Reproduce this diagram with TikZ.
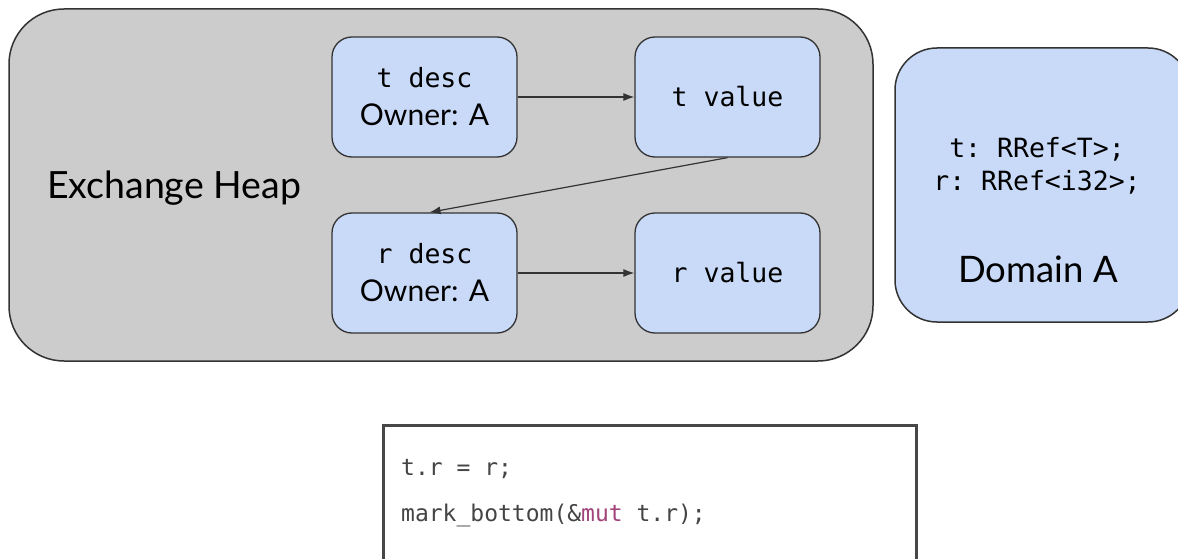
\documentclass[tikz,border=0pt]{standalone}
\usepackage{fontspec}
\setmainfont{Lato}
\setsansfont{Lato}
\setmonofont{DejaVu Sans Mono}
\usetikzlibrary{arrows.meta}
\definecolor{heapfill}{HTML}{CCCCCC}
\definecolor{boxfill}{HTML}{C9DAF8}
\definecolor{edge}{HTML}{333333}
\definecolor{codetext}{HTML}{444444}
\definecolor{kw}{HTML}{A0447A}
\tikzset{
  heapbox/.style={draw=edge, line width=1.5pt, fill=heapfill, rounded corners=55pt},
  domainbox/.style={draw=edge, line width=1.5pt, fill=boxfill, rounded corners=42pt},
  cell/.style={draw=edge, line width=1.3pt, fill=boxfill, rounded corners=20pt,
    minimum width=185pt, minimum height=120pt, inner sep=0pt, align=center,
    font=\fontsize{30}{38}\selectfont\sffamily},
  link/.style={draw=edge, line width=1.2pt, -{Latex[length=11pt,width=8pt]}},
  codebox/.style={draw=edge!90, line width=3pt, fill=white},
  monotext/.style={font=\fontsize{26.5}{33}\selectfont\ttfamily},
  codeline/.style={anchor=base west, inner sep=0pt, text=codetext,
    font=\fontsize{23}{28}\selectfont\ttfamily},
  biglabel/.style={font=\fontsize{37.5}{44}\selectfont\sffamily},
}
\newcommand{\mono}[1]{{\fontsize{26.5}{38}\selectfont\ttfamily #1}}
\begin{document}
\begin{tikzpicture}[x=1pt,y=-1pt]
\useasboundingbox (0,0) rectangle (1178,559);
% exchange heap
\draw[heapbox] (9,9) rectangle (873,361);
\node[biglabel] (heaplbl) at (174,188) {Exchange Heap};
% domain
\draw[domainbox] (895,48) rectangle (1190,322);
\node[monotext, align=center, font=\fontsize{26.5}{33}\selectfont\ttfamily] (decl) at (1037,166) {t: RRef<T>;\\r: RRef<i32>;};
\node[font=\fontsize{36.5}{44}\selectfont\sffamily] (domlbl) at (1038,269) {Domain A};
% cells
\node[cell] (td) at (424.5,97) {\mono{t desc}\\Owner: A};
\node[cell, monotext] (tv) at (727.5,97) {t value};
\node[cell] (rd) at (424.5,273) {\mono{r desc}\\Owner: A};
\node[cell, monotext] (rv) at (727.5,273) {r value};
\draw[link] (td.east) -- (tv.west);
\draw[link] (tv.south) -- ([xshift=5pt]rd.north);
\draw[link] (rd.east) -- (rv.west);
% code box
\draw[codebox] (383,425) rectangle (916,580);
\node[codeline] (c1) at (401,475) {t.r = r;};
\node[codeline] (c2) at (401,521) {mark\_bottom(\&\textcolor{kw}{mut} t.r);};
\end{tikzpicture}
\end{document}
